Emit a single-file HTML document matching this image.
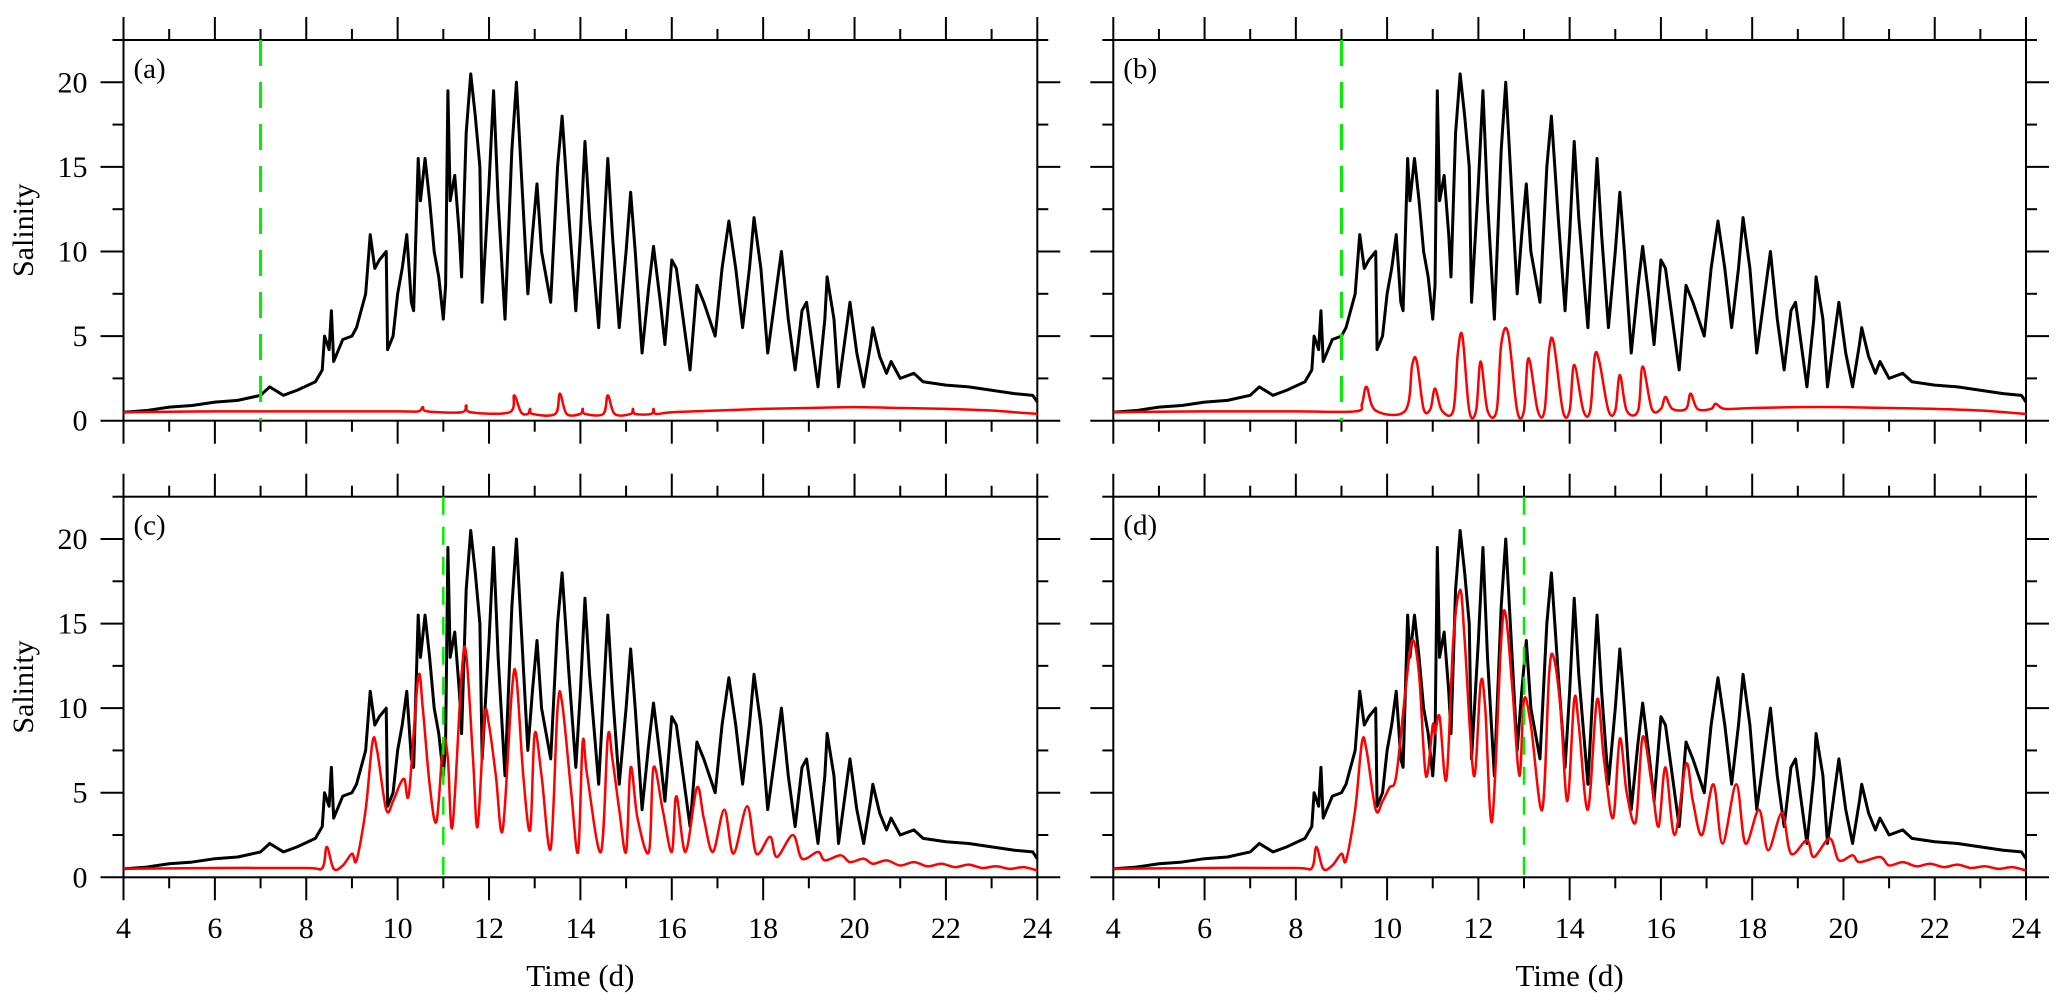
<!DOCTYPE html>
<html><head><meta charset="utf-8">
<style>
html,body{margin:0;padding:0;background:#fff;}
svg{display:block;font-family:"Liberation Serif",serif;}
</style></head>
<body>
<svg id="chart" width="2067" height="1002" viewBox="0 0 2067 1002" xmlns="http://www.w3.org/2000/svg"></svg>
<script>
// ---- data ----
const blackT = [4,4.5,5,5.5,6,6.5,7,7.2,7.5,7.8,8.2,8.35,8.4,8.5,8.55,8.6,8.8,9,9.1,9.3,9.4,9.5,9.6,9.75,9.78,9.9,10,10.1,10.2,10.3,10.35,10.45,10.5,10.6,10.7,10.8,10.9,11,11.05,11.1,11.15,11.25,11.35,11.4,11.5,11.6,11.7,11.8,11.85,12,12.1,12.2,12.35,12.5,12.6,12.7,12.85,12.95,13.05,13.15,13.35,13.5,13.6,13.75,13.9,14,14.1,14.2,14.4,14.6,14.7,14.85,15,15.1,15.2,15.35,15.5,15.6,15.75,15.85,16,16.1,16.2,16.4,16.55,16.7,16.95,17.1,17.25,17.4,17.55,17.7,17.8,17.95,18.1,18.3,18.4,18.55,18.7,18.85,18.95,19.1,19.2,19.35,19.4,19.55,19.65,19.85,19.9,20.05,20.2,20.35,20.4,20.55,20.7,20.8,21,21.3,21.5,22,22.5,23,23.5,23.9,24];
const blackV = [0.5,0.6,0.8,0.9,1.1,1.2,1.5,2.0,1.5,1.8,2.3,3.0,5.0,4.2,6.5,3.5,4.8,5.0,5.5,7.5,11.0,9.0,9.5,10.0,4.2,5.0,7.5,9.0,11.0,7,6.5,15.5,13.0,15.5,13,10,8.5,6,8,19.5,13,14.5,11,8.5,17,20.5,18,15,7,14,19.5,13,6,16,20,15,7.5,11,14,10,7,15,18,12,6.5,11,16.5,12,5.5,15.5,11,5.5,10,13.5,10,4,8,10.3,7,4.5,9.5,9.0,7,3,8,7,5,9,11.8,9,5.5,9,12,9,4,8,10,6,3,6.5,7,4,2,6,8.5,6,2,6,7,4,2,4.5,5.5,3.8,2.8,3.5,2.5,2.8,2.3,2.1,2.0,1.8,1.6,1.5,1.1];

const redAT = [4,6,8,10,10.45,10.55,10.65,11.4,11.5,11.6,12.45,12.55,12.7,12.85,12.9,12.95,13.45,13.55,13.7,14.0,14.05,14.1,14.5,14.6,14.75,15.1,15.15,15.2,15.55,15.6,15.65,16,17,18,19,20,21,22,23,23.5,24];
const redAV = [0.5,0.55,0.55,0.55,0.55,0.8,0.55,0.5,0.9,0.5,0.5,1.5,0.5,0.4,0.7,0.4,0.4,1.6,0.4,0.4,0.7,0.4,0.4,1.5,0.4,0.4,0.7,0.4,0.4,0.7,0.4,0.5,0.6,0.7,0.75,0.8,0.75,0.7,0.6,0.5,0.4];

const redBT = [4,6,8,9.3,9.45,9.55,9.75,10.4,10.55,10.65,10.8,10.95,11.05,11.2,11.45,11.55,11.65,11.8,11.95,12.05,12.2,12.4,12.5,12.65,12.85,13.0,13.1,13.3,13.45,13.55,13.65,13.85,14.0,14.1,14.3,14.45,14.55,14.65,14.85,15.0,15.1,15.25,15.5,15.6,15.8,16.0,16.1,16.25,16.55,16.65,16.8,17.1,17.2,17.4,18,19,20,21,22,23,24];
const redBV = [0.5,0.55,0.55,0.55,1.0,2.0,0.6,0.6,3.3,3.5,0.7,0.7,1.9,0.6,0.6,4.0,5.0,0.6,0.6,3.5,0.6,0.6,4.5,5.2,0.6,0.6,3.7,0.6,0.6,4.2,4.6,0.6,0.6,3.3,0.6,0.6,3.8,3.5,0.6,0.6,2.7,0.6,0.6,3.2,0.7,0.7,1.4,0.7,0.7,1.6,0.7,0.7,1.0,0.7,0.75,0.8,0.8,0.75,0.7,0.6,0.4];

const redCT = [4,6,8,8.35,8.45,8.6,8.8,9.0,9.1,9.3,9.45,9.55,9.75,9.9,10.05,10.15,10.25,10.45,10.55,10.7,10.85,11.0,11.1,11.2,11.4,11.5,11.65,11.75,11.9,12.0,12.15,12.3,12.5,12.6,12.75,12.9,13.0,13.15,13.35,13.5,13.6,13.8,13.95,14.05,14.15,14.45,14.6,14.7,14.85,15.0,15.1,15.25,15.5,15.6,15.8,16.0,16.1,16.3,16.55,16.7,16.9,17.15,17.35,17.65,17.85,18.15,18.3,18.65,18.85,19.2,19.35,19.7,19.9,20.2,20.4,20.7,21,21.3,21.6,21.9,22.2,22.5,22.8,23.1,23.4,23.7,24];
const redCV = [0.5,0.55,0.55,0.55,1.8,0.5,0.7,1.4,1.0,4,8.0,7.5,4.0,4.5,5.5,5.8,5.0,11.8,10,5.5,3.3,8.0,7,3,12,13.2,7,3,9.5,9,6,2.8,11,11.8,6,2.8,8.5,6,1.7,10,10.3,5,1.5,8,6,1.5,8.3,7,4,1.5,6.5,3.5,1.5,6.5,4,1.5,4.8,1.5,5.3,3.5,1.5,4,1.4,4.2,1.4,2.4,1.2,2.5,1.1,1.5,1.0,1.3,0.9,1.1,0.8,1.0,0.7,0.9,0.65,0.8,0.6,0.75,0.55,0.65,0.5,0.6,0.4];

const redDT = [4,6,8,8.35,8.45,8.6,8.8,9.0,9.1,9.3,9.45,9.55,9.75,9.9,10.05,10.2,10.4,10.55,10.7,10.85,11.0,11.05,11.15,11.3,11.45,11.6,11.7,11.9,12.05,12.15,12.3,12.5,12.6,12.75,12.9,13.0,13.15,13.4,13.55,13.65,13.8,13.95,14.1,14.2,14.4,14.6,14.75,14.95,15.1,15.25,15.45,15.6,15.8,15.95,16.1,16.3,16.55,16.7,16.9,17.15,17.35,17.65,17.85,18.15,18.35,18.65,18.85,19.2,19.35,19.7,19.9,20.2,20.35,20.8,21,21.3,21.6,21.9,22.2,22.5,22.8,23.1,23.4,23.7,24];
const redDV = [0.5,0.55,0.55,0.55,1.8,0.5,0.7,1.4,1.0,4,8.0,7.5,4.0,4.5,5.3,6,11,14,12,6,9,8.5,9.5,5.8,14,17,14,6,11.5,10,3.3,14,15.5,11,6,10.5,9,4,12,13,10,4.5,10.5,9,4,10.5,7,3.5,8.2,5,3.3,8.3,5.5,3,6.5,2.5,6.7,4.5,2.5,5.5,2,5.5,2,4,1.6,3.8,1.4,2.2,1.2,2.3,1.0,1.3,0.9,1.2,0.7,0.9,0.65,0.8,0.6,0.75,0.55,0.65,0.5,0.6,0.4];

const xTicksMajor = [4,6,8,10,12,14,16,18,20,22,24];
const xTicksMinor = [5,7,9,11,13,15,17,19,21,23];
const yTicksMajor = [0,5,10,15,20];
const yTicksMinor = [2.5,7.5,12.5,17.5];
const panelLetters = ["(a)","(b)","(c)","(d)"];
const markerDays = [7,9,11,13];

// ---- layout ----
const svg = document.getElementById('chart');
const NS = 'http://www.w3.org/2000/svg';
const cols = [[123.5,1037.3],[1113.3,2026]];
const rows = [[40,420.7],[496.7,877.3]];
const redSets = [[redAT,redAV],[redBT,redBV],[redCT,redCV],[redDT,redDV]];

function mk(tag, attrs, parent){
  const e = document.createElementNS(NS, tag);
  for (const k in attrs) e.setAttribute(k, attrs[k]);
  (parent||svg).appendChild(e);
  return e;
}
function smoothPath(pts){
  let d = 'M' + pts[0][0] + ',' + pts[0][1];
  for (let i = 0; i < pts.length-1; i++){
    const p0 = pts[Math.max(0,i-1)], p1 = pts[i], p2 = pts[i+1], p3 = pts[Math.min(pts.length-1,i+2)];
    const c1x = p1[0] + (p2[0]-p0[0])/6, c1y = p1[1] + (p2[1]-p0[1])/6;
    const c2x = p2[0] - (p3[0]-p1[0])/6, c2y = p2[1] - (p3[1]-p1[1])/6;
    d += ' C' + c1x + ',' + c1y + ' ' + c2x + ',' + c2y + ' ' + p2[0] + ',' + p2[1];
  }
  return d;
}

for (let p = 0; p < 4; p++){
  const c = cols[p%2], r = rows[Math.floor(p/2)];
  const xs = t => c[0] + (t-4)/20*(c[1]-c[0]);
  const ys = v => r[1] - v/22.5*(r[1]-r[0]);
  const g = mk('g', {});
  
  

  const frame = mk('rect', {x:c[0], y:r[0], width:c[1]-c[0], height:r[1]-r[0], fill:'none', stroke:'#000', 'stroke-width':2}, g);
  
  

  const tk = mk('g', {stroke:'#000','stroke-width':2}, g);
  
  
  xTicksMajor.forEach(t => {
    mk('line',{x1:xs(t),x2:xs(t),y1:r[0],y2:r[0]-23},tk);
    mk('line',{x1:xs(t),x2:xs(t),y1:r[1],y2:r[1]+23},tk);
  });
  xTicksMinor.forEach(t => {
    mk('line',{x1:xs(t),x2:xs(t),y1:r[0],y2:r[0]-11},tk);
    mk('line',{x1:xs(t),x2:xs(t),y1:r[1],y2:r[1]+11},tk);
  });
  yTicksMajor.forEach(v => {
    mk('line',{x1:c[0],x2:c[0]-23,y1:ys(v),y2:ys(v)},tk);
    mk('line',{x1:c[1],x2:c[1]+23,y1:ys(v),y2:ys(v)},tk);
  });
  yTicksMinor.concat([22.5]).forEach(v => {
    mk('line',{x1:c[0],x2:c[0]-11,y1:ys(v),y2:ys(v)},tk);
    mk('line',{x1:c[1],x2:c[1]+11,y1:ys(v),y2:ys(v)},tk);
  });

  if (p%2 === 0){
    yTicksMajor.forEach(v => {
      const tx = mk('text',{x:c[0]-36,y:ys(v)+10,'text-anchor':'end','font-size':30},g);
      tx.textContent = v;
      
      
    });
    const yt = mk('text',{x:0,y:0,'text-anchor':'middle','font-size':30,transform:`translate(33,${(r[0]+r[1])/2}) rotate(-90)`},g);
    yt.textContent = 'Salinity';
    
    
  }
  if (p >= 2){
    xTicksMajor.forEach(t => {
      const tx = mk('text',{x:xs(t),y:938,'text-anchor':'middle','font-size':30},g);
      tx.textContent = t;
      
      
    });
    const xt = mk('text',{x:(c[0]+c[1])/2,y:986,'text-anchor':'middle','font-size':31},g);
    xt.textContent = 'Time (d)';
    
    
  }

  const pl = mk('text',{x:c[0]+10,y:r[0]+38,'font-size':29},g);
  pl.textContent = panelLetters[p];
  
  

  const bl = mk('polyline',{points:blackT.map((t,i)=>xs(t)+','+ys(blackV[i])).join(' '),fill:'none',stroke:'#000','stroke-width':3,'stroke-linejoin':'round'},g);
  
  
  const rs = redSets[p];
  const rl = mk('path',{d:smoothPath(rs[0].map((t,i)=>[xs(t),ys(rs[1][i])])),fill:'none',stroke:'#ff0000','stroke-width':2.5,'stroke-linejoin':'round'},g);
  
  

  const big = p < 2;
  const gl = mk('line',{x1:xs(markerDays[p]),x2:xs(markerDays[p]),y1:r[0],y2:r[1],stroke:'#00ee00','stroke-width':big?3:2.5,'stroke-dasharray':big?'26,16':'18,12'},g);
  
  
}
</script>
</body></html>
